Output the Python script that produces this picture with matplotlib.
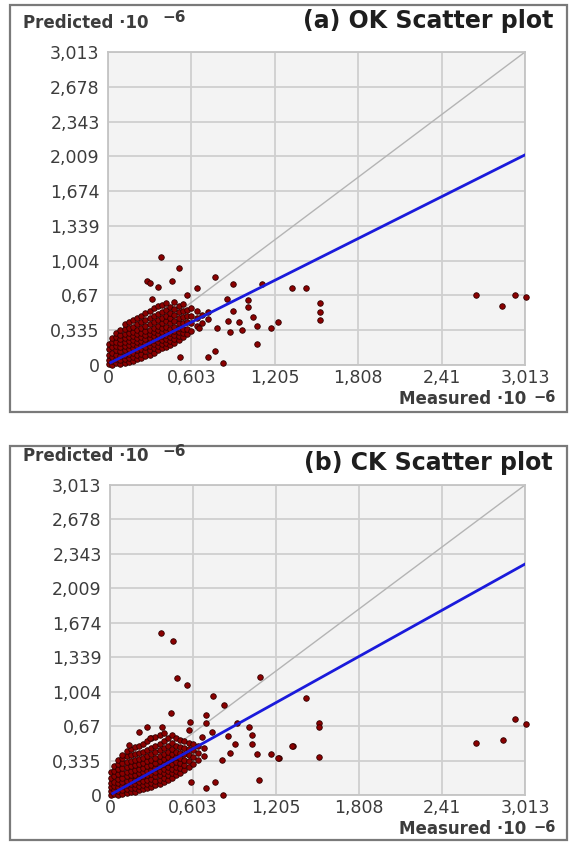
import matplotlib
matplotlib.use("Agg")
import matplotlib.pyplot as plt
from matplotlib.patches import Rectangle

# ---------------- data ----------------
ticks_x = [0, 0.603, 1.205, 1.808, 2.41, 3.013]
ticks_x_labels = ["0", "0,603", "1,205", "1,808", "2,41", "3,013"]
ticks_y = [0, 0.335, 0.67, 1.004, 1.339, 1.674, 2.009, 2.343, 2.678, 3.013]
ticks_y_labels = ["0", "0,335", "0,67", "1,004", "1,339", "1,674", "2,009", "2,343", "2,678", "3,013"]

# dense cluster rows (x column -> predicted values)
ok_rows_x = [0.01, 0.03, 0.06, 0.09, 0.12, 0.15, 0.18, 0.21, 0.24, 0.27, 0.30, 0.33,
             0.36, 0.39, 0.42, 0.45, 0.48, 0.51, 0.54, 0.57, 0.60, 0.64, 0.68, 0.72]
ok_rows_y = [
    [0.01, 0.05, 0.10, 0.15, 0.20],
    [0.00, 0.04, 0.08, 0.12, 0.17, 0.22, 0.26],
    [0.02, 0.06, 0.10, 0.14, 0.18, 0.22, 0.27, 0.31],
    [0.01, 0.05, 0.09, 0.13, 0.17, 0.21, 0.25, 0.29, 0.34],
    [0.02, 0.06, 0.10, 0.14, 0.18, 0.22, 0.26, 0.30, 0.35, 0.39],
    [0.03, 0.07, 0.11, 0.15, 0.19, 0.23, 0.27, 0.31, 0.36, 0.41],
    [0.04, 0.08, 0.12, 0.16, 0.20, 0.24, 0.28, 0.32, 0.37, 0.43],
    [0.06, 0.10, 0.14, 0.18, 0.22, 0.26, 0.30, 0.34, 0.39, 0.45],
    [0.07, 0.11, 0.15, 0.19, 0.23, 0.27, 0.31, 0.36, 0.41, 0.47],
    [0.09, 0.13, 0.17, 0.21, 0.25, 0.29, 0.33, 0.38, 0.43, 0.50],
    [0.10, 0.14, 0.18, 0.22, 0.26, 0.30, 0.34, 0.39, 0.45, 0.52],
    [0.12, 0.16, 0.20, 0.24, 0.28, 0.32, 0.36, 0.41, 0.47, 0.55],
    [0.14, 0.18, 0.22, 0.26, 0.30, 0.34, 0.38, 0.43, 0.49, 0.57],
    [0.16, 0.20, 0.24, 0.28, 0.32, 0.36, 0.40, 0.45, 0.51, 0.58],
    [0.17, 0.21, 0.25, 0.29, 0.33, 0.37, 0.42, 0.47, 0.53, 0.60],
    [0.19, 0.23, 0.27, 0.31, 0.35, 0.40, 0.45, 0.50, 0.56],
    [0.21, 0.25, 0.29, 0.33, 0.37, 0.42, 0.48, 0.54, 0.61],
    [0.24, 0.28, 0.32, 0.36, 0.40, 0.45, 0.51, 0.57],
    [0.27, 0.31, 0.35, 0.40, 0.46, 0.52, 0.59],
    [0.30, 0.35, 0.41, 0.47, 0.53],
    [0.33, 0.40, 0.47, 0.55],
    [0.38, 0.45, 0.52],
    [0.40, 0.48],
    [0.44, 0.51],
]
ok_out_x = [0.38, 0.51, 0.28, 0.30, 0.36, 0.46, 0.77, 0.90, 0.64, 1.11, 0.32, 0.57,
            1.01, 0.86, 1.01, 0.90, 0.87, 0.95, 1.05, 1.08, 1.23, 1.18, 0.97, 0.88,
            0.79, 1.08, 0.77, 0.72, 0.83, 0.52, 0.66, 1.33, 1.43, 1.53, 1.53, 1.53,
            2.66, 2.94, 3.02, 2.85]
ok_out_y = [1.04, 0.93, 0.81, 0.79, 0.75, 0.81, 0.85, 0.78, 0.74, 0.78, 0.64, 0.67,
            0.63, 0.64, 0.56, 0.52, 0.42, 0.41, 0.46, 0.38, 0.41, 0.36, 0.34, 0.32,
            0.36, 0.20, 0.13, 0.08, 0.02, 0.08, 0.36, 0.74, 0.74, 0.60, 0.51, 0.43,
            0.67, 0.67, 0.65, 0.57]
ok_fit = (0.668, 0.01)   # slope, intercept

ck_rows_x = [0.01, 0.03, 0.06, 0.09, 0.12, 0.15, 0.18, 0.21, 0.24, 0.27, 0.30, 0.33,
             0.36, 0.39, 0.42, 0.45, 0.48, 0.51, 0.54, 0.57, 0.60, 0.64, 0.68]
ck_rows_y = [
    [0.00, 0.04, 0.08, 0.12, 0.17, 0.22],
    [0.01, 0.05, 0.09, 0.13, 0.18, 0.23, 0.28],
    [0.00, 0.04, 0.08, 0.12, 0.16, 0.20, 0.25, 0.30, 0.34],
    [0.01, 0.05, 0.09, 0.13, 0.17, 0.21, 0.26, 0.31, 0.36],
    [0.02, 0.06, 0.10, 0.14, 0.18, 0.22, 0.27, 0.32, 0.38, 0.43],
    [0.03, 0.07, 0.11, 0.15, 0.19, 0.23, 0.28, 0.33, 0.39, 0.45],
    [0.03, 0.07, 0.11, 0.15, 0.19, 0.24, 0.29, 0.34, 0.40, 0.47],
    [0.05, 0.09, 0.13, 0.17, 0.21, 0.25, 0.30, 0.35, 0.41, 0.48],
    [0.06, 0.10, 0.14, 0.18, 0.22, 0.26, 0.31, 0.36, 0.42, 0.50],
    [0.07, 0.11, 0.15, 0.19, 0.23, 0.28, 0.33, 0.38, 0.44, 0.52],
    [0.08, 0.12, 0.16, 0.20, 0.24, 0.29, 0.34, 0.40, 0.46, 0.55],
    [0.10, 0.14, 0.18, 0.22, 0.26, 0.31, 0.36, 0.42, 0.48, 0.56],
    [0.11, 0.15, 0.19, 0.23, 0.28, 0.33, 0.38, 0.44, 0.50, 0.58],
    [0.13, 0.17, 0.21, 0.25, 0.30, 0.35, 0.40, 0.46, 0.52, 0.60],
    [0.15, 0.19, 0.23, 0.27, 0.32, 0.37, 0.42, 0.48, 0.55],
    [0.17, 0.21, 0.25, 0.30, 0.35, 0.40, 0.45, 0.51, 0.58],
    [0.19, 0.23, 0.27, 0.32, 0.37, 0.42, 0.48, 0.55],
    [0.21, 0.26, 0.31, 0.36, 0.41, 0.47, 0.53],
    [0.24, 0.29, 0.34, 0.40, 0.46, 0.52],
    [0.27, 0.33, 0.39, 0.45, 0.51],
    [0.30, 0.37, 0.44, 0.50],
    [0.34, 0.41, 0.48],
    [0.38, 0.46],
]
ck_out_x = [0.37, 0.46, 0.49, 0.56, 0.75, 0.83, 0.44, 1.09, 0.70, 1.01, 1.03, 0.92,
            0.86, 1.03, 0.91, 1.33, 1.07, 1.17, 1.23, 0.87, 0.81, 0.76, 0.70, 0.82,
            1.08, 0.59, 0.27, 0.38, 0.21, 0.29, 0.58, 0.57, 0.70, 0.74, 0.67, 0.09,
            0.14, 1.52, 1.52, 1.52, 1.32, 1.42, 1.22, 2.94, 3.02, 2.66, 2.85]
ck_out_y = [1.57, 1.50, 1.14, 1.07, 0.96, 0.87, 0.80, 1.15, 0.78, 0.66, 0.58, 0.70,
            0.57, 0.50, 0.50, 0.48, 0.40, 0.40, 0.36, 0.41, 0.34, 0.13, 0.07, 0.00,
            0.15, 0.13, 0.66, 0.66, 0.61, 0.55, 0.71, 0.63, 0.70, 0.61, 0.56, 0.39,
            0.49, 0.70, 0.66, 0.37, 0.48, 0.94, 0.36, 0.74, 0.69, 0.51, 0.53]
ck_fit = (0.745, 0.0)

panels = [
    dict(title="(a) OK Scatter plot", rows_x=ok_rows_x, rows_y=ok_rows_y,
         out_x=ok_out_x, out_y=ok_out_y, fit=ok_fit),
    dict(title="(b) CK Scatter plot", rows_x=ck_rows_x, rows_y=ck_rows_y,
         out_x=ck_out_x, out_y=ck_out_y, fit=ck_fit),
]

# ---------------- layout ----------------
W, H = 570, 844
fig = plt.figure(figsize=(W / 100, H / 100), dpi=100)
fig.patch.set_facecolor("white")

def fx(px):
    return px / W

def fy(py):
    return 1 - py / H

geom = [
    dict(box=(10, 5, 567, 412), ax=(108, 52, 525, 365), pred_y=23, title_y=21, meas_y=399),
    dict(box=(10, 446, 567, 840), ax=(110, 485, 525, 795), pred_y=456, title_y=463, meas_y=829),
]

txt_color = "#3c3c3c"
font = "DejaVu Sans"

for p, g in zip(panels, geom):
    bx0, by0, bx1, by1 = g["box"]
    fig.patches.append(Rectangle((fx(bx0), fy(by1)), fx(bx1 - bx0), (by1 - by0) / H,
                                 transform=fig.transFigure, fill=False,
                                 edgecolor="#7a7a7a", linewidth=1.6, zorder=0))
    ax0, ay0, ax1, ay1 = g["ax"]
    ax = fig.add_axes([fx(ax0), fy(ay1), fx(ax1 - ax0), (ay1 - ay0) / H])
    ax.set_facecolor("#f3f3f3")
    ax.set_xlim(0, 3.013)
    ax.set_ylim(0, 3.013)
    ax.set_xticks(ticks_x)
    ax.set_xticklabels(ticks_x_labels)
    ax.set_yticks(ticks_y)
    ax.set_yticklabels(ticks_y_labels)
    ax.tick_params(length=0, labelsize=12.5, labelcolor=txt_color)
    ax.tick_params(axis="y", pad=6)
    ax.tick_params(axis="x", pad=3)
    for lab in ax.get_xticklabels() + ax.get_yticklabels():
        lab.set_fontfamily(font)
    ax.grid(True, color="#cfcfcf", linewidth=1.3)
    ax.set_axisbelow(True)
    for s in ax.spines.values():
        s.set_color("#c4c4c4")
        s.set_linewidth(1.3)

    # 1:1 line
    ax.plot([0, 3.013], [0, 3.013], color="#b4b4b4", linewidth=1.0, zorder=2)

    xs, ys = [], []
    for xv, yl in zip(p["rows_x"], p["rows_y"]):
        for yv in yl:
            xs.append(xv)
            ys.append(yv)
    xs += p["out_x"]
    ys += p["out_y"]
    ax.scatter(xs, ys, s=16, facecolor="#8b0000", edgecolor="#2e0000",
               linewidth=0.6, zorder=3, clip_on=False)

    slope, icpt = p["fit"]
    ax.plot([0.02, 3.013], [icpt + slope * 0.02, icpt + slope * 3.013],
            color="#1a1adb", linewidth=2.0, zorder=4)

    # texts
    py = g["pred_y"]
    fig.text(fx(23), fy(py), "Predicted ·10", fontsize=12, color=txt_color,
             fontweight="bold", family=font, ha="left", va="center")
    fig.text(fx(162), fy(py - 5), "−6", fontsize=11, color=txt_color,
             fontweight="bold", family=font, ha="left", va="center")
    fig.text(fx(553), fy(g["title_y"]), p["title"], fontsize=17, color="#1e1e1e",
             fontweight="bold", family=font, ha="right", va="center")
    my = g["meas_y"]
    fig.text(fx(526), fy(my), "Measured ·10", fontsize=12, color=txt_color,
             fontweight="bold", family=font, ha="right", va="center")
    fig.text(fx(533), fy(my - 2), "−6", fontsize=10.5, color=txt_color,
             fontweight="bold", family=font, ha="left", va="center")

fig.savefig("out.png", dpi=100, facecolor="white")
